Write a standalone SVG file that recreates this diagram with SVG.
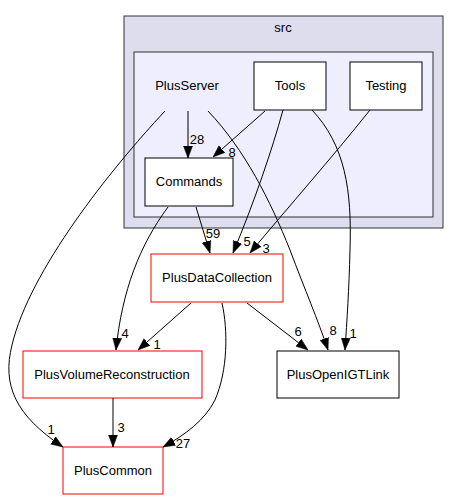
<svg xmlns="http://www.w3.org/2000/svg" width="460" height="500" viewBox="0 0 460 500">
<style>
  text { font-family: "Liberation Sans", Arial, sans-serif; font-size: 13px; fill: #000; }
  .lbl { text-anchor: middle; }
  .node { fill: #fff; stroke: #000; stroke-width: 1; }
  .red { fill: #fff; stroke: #ff0000; stroke-width: 1; }
  .edge { fill: none; stroke: #000; stroke-width: 1; marker-end: url(#arrow); }
</style>
<defs>
  <marker id="arrow" markerUnits="userSpaceOnUse" markerWidth="12" markerHeight="10" refX="12" refY="5" orient="auto">
    <path d="M0,0.5 L12,5 L0,9.5 z" fill="#000" stroke="#000" stroke-width="0.5"/>
  </marker>
</defs>
<g id="cluster_src">
  <rect x="124" y="16" width="319" height="212" fill="#ddddee" stroke="#333"/>
  <text x="283" y="32" class="lbl">src</text>
</g>
<g id="cluster_PlusServer">
  <rect x="134" y="52" width="299" height="165" fill="#eeeeff" stroke="#333"/>
  <text x="187" y="90" class="lbl">PlusServer</text>
</g>
<g id="Tools">
  <rect x="254" y="62" width="72" height="48" class="node"/>
  <text x="290" y="90" class="lbl">Tools</text>
</g>
<g id="Testing">
  <rect x="350" y="62" width="72" height="48" class="node"/>
  <text x="386" y="90" class="lbl">Testing</text>
</g>
<g id="Commands">
  <rect x="145" y="158" width="88" height="48" class="node"/>
  <text x="189" y="186" class="lbl">Commands</text>
</g>
<g id="PlusDataCollection">
  <rect x="151" y="254" width="132" height="48" class="red"/>
  <text x="217" y="282" class="lbl">PlusDataCollection</text>
</g>
<g id="PlusVolumeReconstruction">
  <rect x="23" y="351" width="179" height="47" class="red"/>
  <text x="112" y="379" class="lbl">PlusVolumeReconstruction</text>
</g>
<g id="PlusOpenIGTLink">
  <rect x="277" y="351" width="122" height="47" class="node"/>
  <text x="338" y="379" class="lbl">PlusOpenIGTLink</text>
</g>
<g id="PlusCommon">
  <rect x="63" y="447" width="100" height="47" class="red"/>
  <text x="113" y="475" class="lbl">PlusCommon</text>
</g>
<g id="connectors">
  <path class="edge" d="M188,111 L188,158"/>
  <text x="197" y="144" class="lbl">28</text>
  <path class="edge" d="M265,111 L213,157"/>
  <text x="232" y="157" class="lbl">8</text>
  <path class="edge" d="M165,111 C110,170 30,270 12,345 C2,385 15,415 63,447"/>
  <text x="51" y="434" class="lbl">1</text>
  <path class="edge" d="M208,111 C245,150 270,200 290,250 C305,290 318,320 328,350"/>
  <text x="333" y="335" class="lbl">8</text>
  <path class="edge" d="M283,110 C272,150 255,200 233,253"/>
  <text x="247" y="246" class="lbl">5</text>
  <path class="edge" d="M312,110 C345,145 352,190 350,250 C349,290 347,320 345,350"/>
  <text x="353" y="338" class="lbl">1</text>
  <path class="edge" d="M370,110 C330,160 290,205 250,253"/>
  <text x="266" y="253" class="lbl">3</text>
  <path class="edge" d="M196,207 L210,253"/>
  <text x="213" y="238" class="lbl">59</text>
  <path class="edge" d="M168,207 C140,245 122,290 116,350"/>
  <text x="125" y="338" class="lbl">4</text>
  <path class="edge" d="M191,303 L138,350"/>
  <text x="157" y="349" class="lbl">1</text>
  <path class="edge" d="M222,303 C228,330 228,370 215,400 C205,420 185,435 163,447"/>
  <text x="183" y="448" class="lbl">27</text>
  <path class="edge" d="M247,303 L308,350"/>
  <text x="298" y="336" class="lbl">6</text>
  <path class="edge" d="M113,398 L113,447"/>
  <text x="121" y="432" class="lbl">3</text>
</g>
</svg>
